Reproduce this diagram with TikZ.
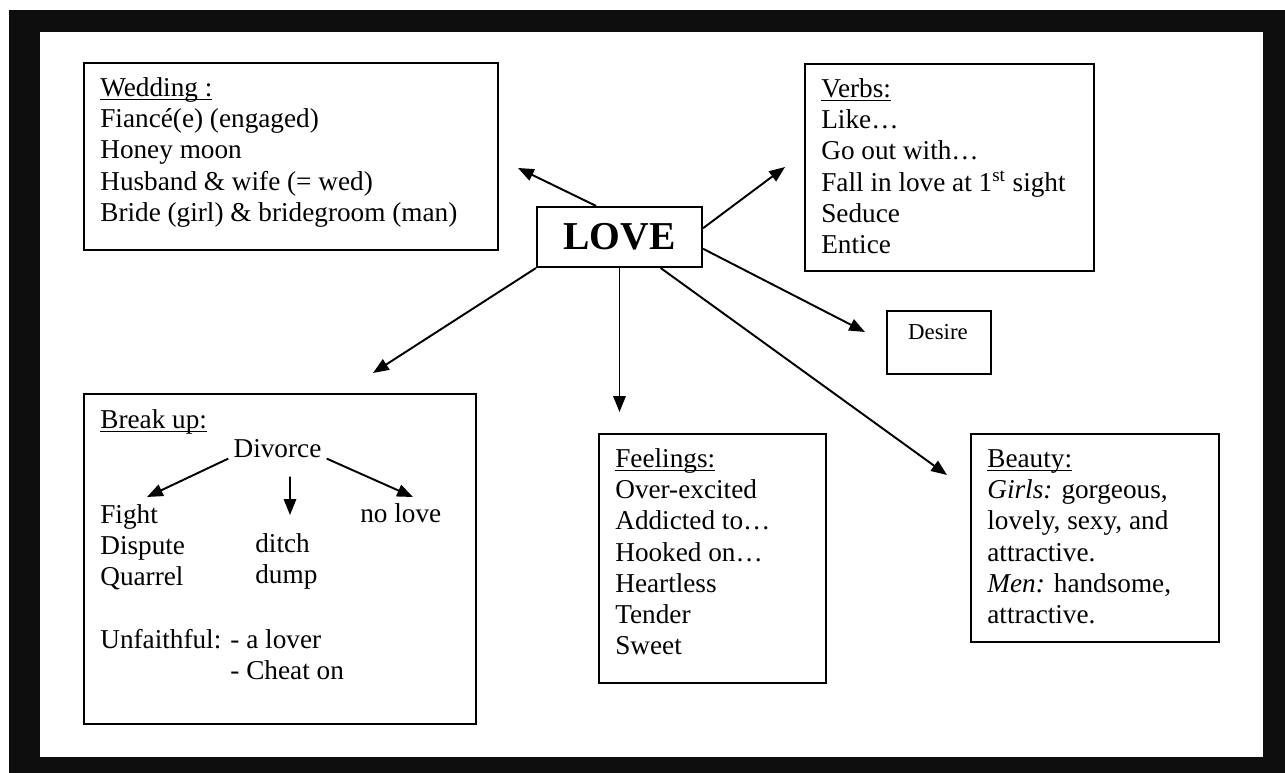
\documentclass[tikz,border=0pt]{standalone}
\usepackage{fontspec}
\setmainfont{Liberation Serif}
\usetikzlibrary{arrows.meta,positioning,calc}
\definecolor{framebg}{RGB}{14,14,14}
\newcommand{\mapsize}{\fontsize{15.5pt}{17.8pt}\selectfont}
% underline at a fixed depth, crossing the descenders
\newcommand{\topichead}[1]{\setbox0\hbox{#1}\rlap{\rule[-2.2pt]{\wd0}{0.7pt}}\box0}

\begin{document}
\begin{tikzpicture}[
  x=0.02cm, y=-0.02cm,
  topicbox/.style={rectangle,draw=black,line width=1.2pt,inner sep=0pt,anchor=north west},
  boxtext/.style={align=left,inner sep=0pt,font=\mapsize},
  lovebox/.style={rectangle,draw=black,line width=1.2pt,minimum width=3.3cm,minimum height=1.2cm,
                  inner sep=0pt,font=\fontsize{22.5pt}{26pt}\selectfont\bfseries},
  arr/.style={-{Triangle[length=9pt,width=7pt]},line width=1.1pt}
]

% frame
\useasboundingbox (0,0) rectangle (1285,773);
\fill[white] (0,0) rectangle (1285,773);
\fill[framebg] (9,10) rectangle (1285,773);
\fill[white] (40,32) rectangle (1263,757);

\node[lovebox] (love) at (619.5,237) {LOVE};

\node[topicbox,minimum width=8.28cm,minimum height=3.74cm] (wedding) at (83,62) {};
\node[boxtext,below right=0.3cm and 0.34cm of wedding.north west] (weddingtxt)
    {\topichead{Wedding :}\\Fiancé(e) (engaged)\\Honey moon\\Husband \& wife (= wed)\\Bride (girl) \& bridegroom (man)};

\node[topicbox,minimum width=5.78cm,minimum height=4.14cm] (verbs) at (804,63) {};
\node[boxtext,below right=0.3cm and 0.34cm of verbs.north west] (verbstxt)
    {\topichead{Verbs:}\\Like…\\Go out with…\\Fall in love at 1\textsuperscript{st} sight\\Seduce\\Entice};

\node[topicbox,minimum width=2.08cm,minimum height=1.26cm] (desire) at (886,310) {};
\node[inner sep=0pt,anchor=base,font=\fontsize{13pt}{15pt}\selectfont] (desiretxt) at (938,340) {Desire};

\node[topicbox,minimum width=4.54cm,minimum height=4.98cm] (feelings) at (598,433) {};
\node[boxtext,below right=0.3cm and 0.34cm of feelings.north west] (feelingstxt)
    {\topichead{Feelings:}\\Over-excited\\Addicted to…\\Hooked on…\\Heartless\\Tender\\Sweet};

\node[topicbox,minimum width=4.96cm,minimum height=4.16cm] (beauty) at (970,433) {};
\node[boxtext,below right=0.32cm and 0.34cm of beauty.north west] (beautytxt)
    {\topichead{Beauty:}\\\textit{Girls:} gorgeous,\\lovely, sexy, and\\attractive.\\\textit{Men:} handsome,\\attractive.};

% break up box with its own little tree
\node[topicbox,minimum width=7.84cm,minimum height=6.6cm] (breakup) at (83,393) {};
\node[boxtext,below right=0.32cm and 0.34cm of breakup.north west] (breakuptxt) {\topichead{Break up:}};
\node[boxtext,inner xsep=0.1cm,anchor=base] (divorce) at (277.5,458) {Divorce};
\node[boxtext,anchor=north west] (fight) at (100,504) {Fight\\Dispute\\Quarrel};
\node[boxtext,anchor=north west] (ditch) at (255,533) {ditch\\dump};
\node[boxtext,anchor=base west] (nolove) at (360,522) {no love};
\node[boxtext,anchor=base west] (unfaithful) at (100,648)
    {\begin{tabular}[t]{@{}l@{ }l@{}}Unfaithful: & - a lover\\ & - Cheat on\end{tabular}};

\coordinate (tofight) at (147,497);
\coordinate (toditch) at (290,515);
\coordinate (tonolove) at (413,497);
\draw[arr] (divorce.south west) -- (tofight);
\draw[arr] ($(divorce.south)+(12.5,18)$) -- (toditch);
\draw[arr] (divorce.south east) -- (tonolove);

% arrows out of LOVE
\coordinate (tipwed) at (518,168);
\coordinate (tipverbs) at (785,167);
\coordinate (tipdesire) at (865,332);
\coordinate (tipbeauty) at (947,475);
\coordinate (tipfeel) at (619.5,412);
\coordinate (tipbreak) at (373,373);

\draw[arr] (love.127) -- (tipwed);
\draw[arr] (love.6) -- (tipverbs);
\draw[arr] (love.352) -- (tipdesire);
\draw[arr] (love.323.5) -- (tipbeauty);
\draw[arr] (love.south) -- (tipfeel);
\draw[arr] (love.south west) -- (tipbreak);

\end{tikzpicture}
\end{document}
